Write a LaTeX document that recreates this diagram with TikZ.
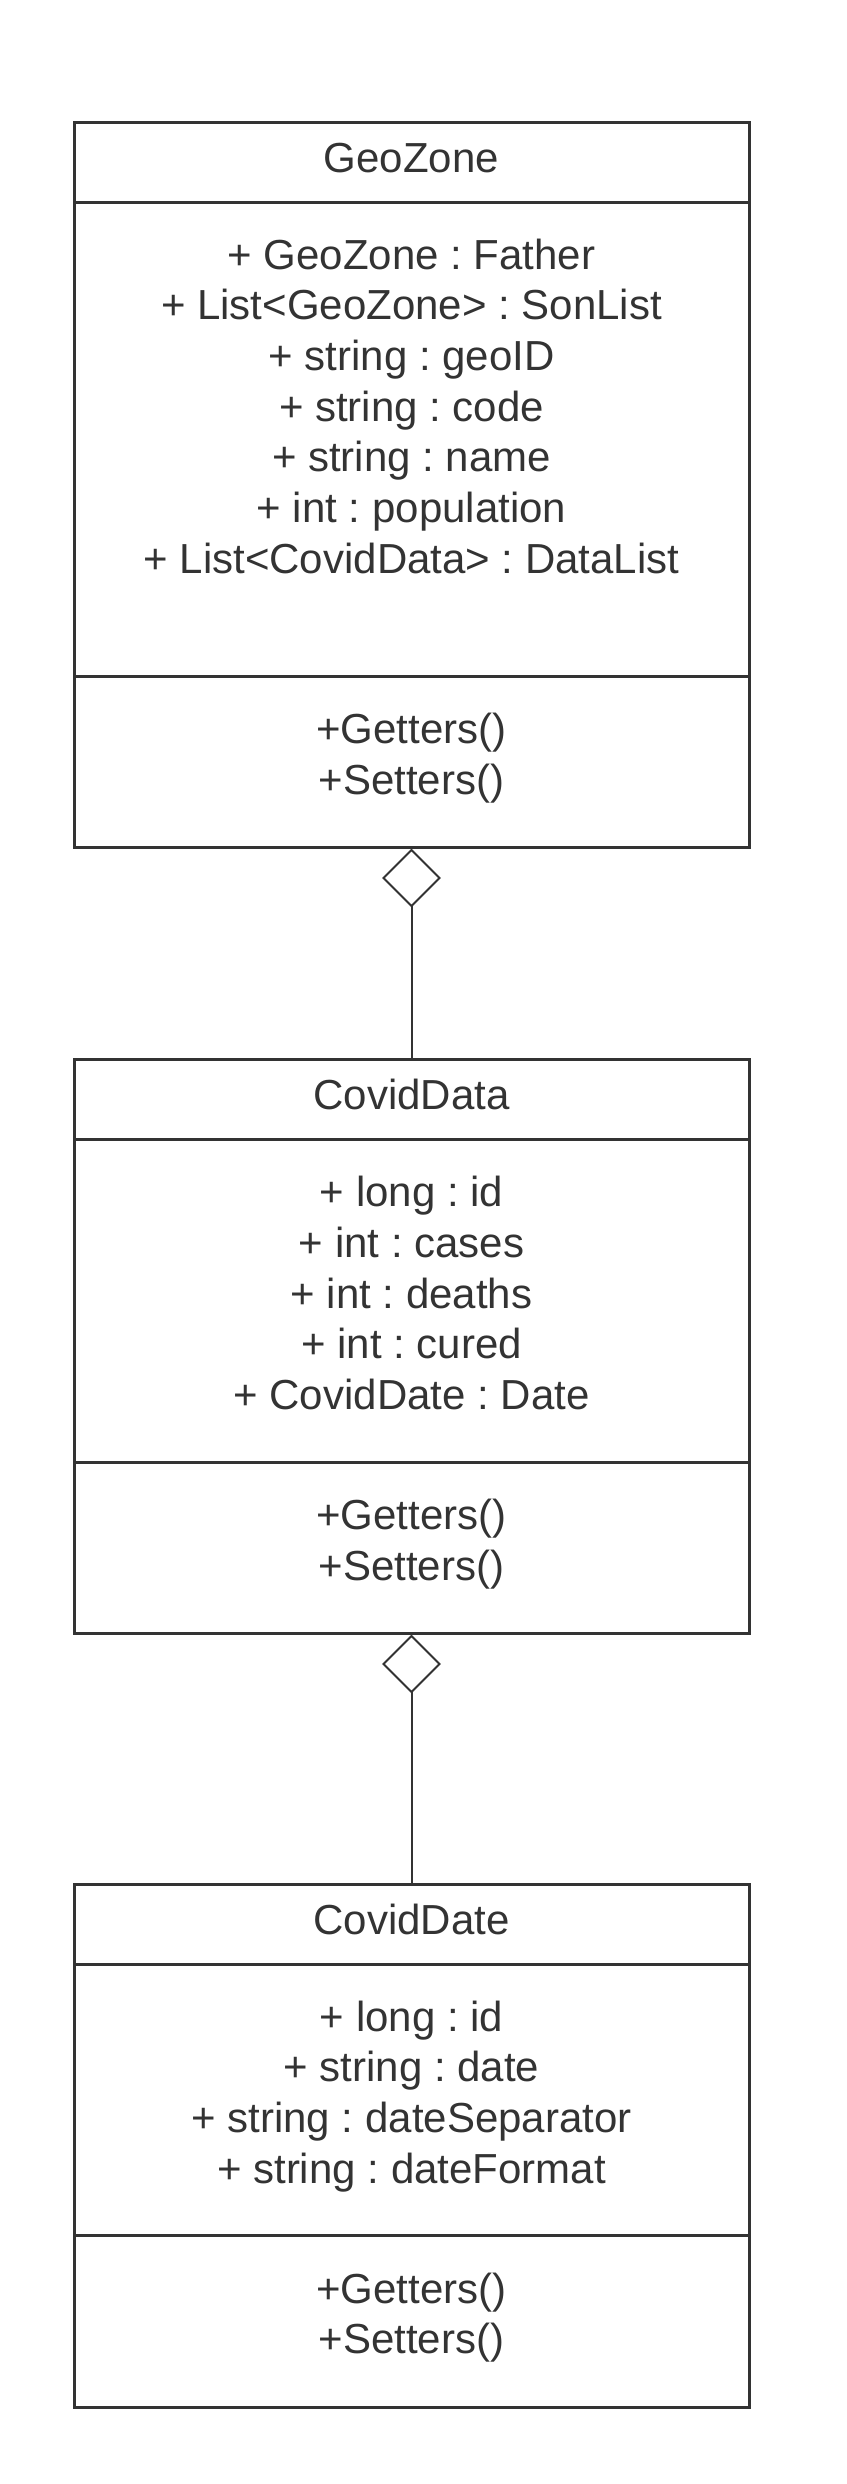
\documentclass[tikz,border=0pt]{standalone}
\usepackage{fontspec}
\setmainfont{Liberation Sans}
\usepackage{tikz}
\usetikzlibrary{positioning, shapes.geometric}

\definecolor{umlgray}{HTML}{333333}
\newcommand{\umlfont}{\fontsize{21pt}{25.35pt}\selectfont}
\frenchspacing

\begin{document}
\begin{tikzpicture}[x=0.5pt, y=-0.5pt,
        classbox/.style={draw=umlgray, line width=1.5pt, outer sep=0pt, inner sep=0pt,
            minimum width=337.5pt, minimum height=#1, text=umlgray, font=\umlfont,
            align=center, execute at begin node=\strut, execute at end node=\strut},
        classbox/.default=40pt,
        aggregation/.style={diamond, draw=umlgray, line width=1pt, outer sep=0pt,
            inner sep=0pt, minimum width=28pt, minimum height=28pt},
        link/.style={draw=umlgray, line width=1pt}]
        % the page
        \useasboundingbox (0,0) rectangle (846,2484);

        % class GeoZone
        \node[classbox] (geozone) at (411.5,162) {GeoZone};
        \node[classbox=237pt, below=0pt of geozone] (geoattr) {+ GeoZone : Father\\
            + List<GeoZone> : SonList\\ + string : geoID\\ + string : code\\
            + string : name\\ + int : population\\ + List<CovidData> : DataList\\};
        \node[classbox=85.5pt, below=0pt of geoattr] (geometh) {+Getters()\\ +Setters()};
        \node[aggregation, below=1.5pt of geometh] (geodiamond) {};

        % class CovidData
        \node[classbox, below=76.5pt of geodiamond] (coviddata) {CovidData};
        \node[classbox=161.5pt, below=0pt of coviddata] (dataattr) {+ long : id\\
            + int : cases\\ + int : deaths\\ + int : cured\\ + CovidDate : Date};
        \node[classbox=85.5pt, below=0pt of dataattr] (datameth) {+Getters()\\ +Setters()};
        \node[aggregation, below=1.5pt of datameth] (datadiamond) {};

        % class CovidDate
        \node[classbox, below=96pt of datadiamond] (coviddate) {CovidDate};
        \node[classbox=135.5pt, below=0pt of coviddate] (dateattr) {+ long : id\\
            + string : date\\ + string : dateSeparator\\ + string : dateFormat};
        \node[classbox=86pt, below=0pt of dateattr] (datemeth) {+Getters()\\ +Setters()};

        % aggregation lines
        \draw[link] (geodiamond.south) -- (coviddata.north);
        \draw[link] (datadiamond.south) -- (coviddate.north);
\end{tikzpicture}
\end{document}
